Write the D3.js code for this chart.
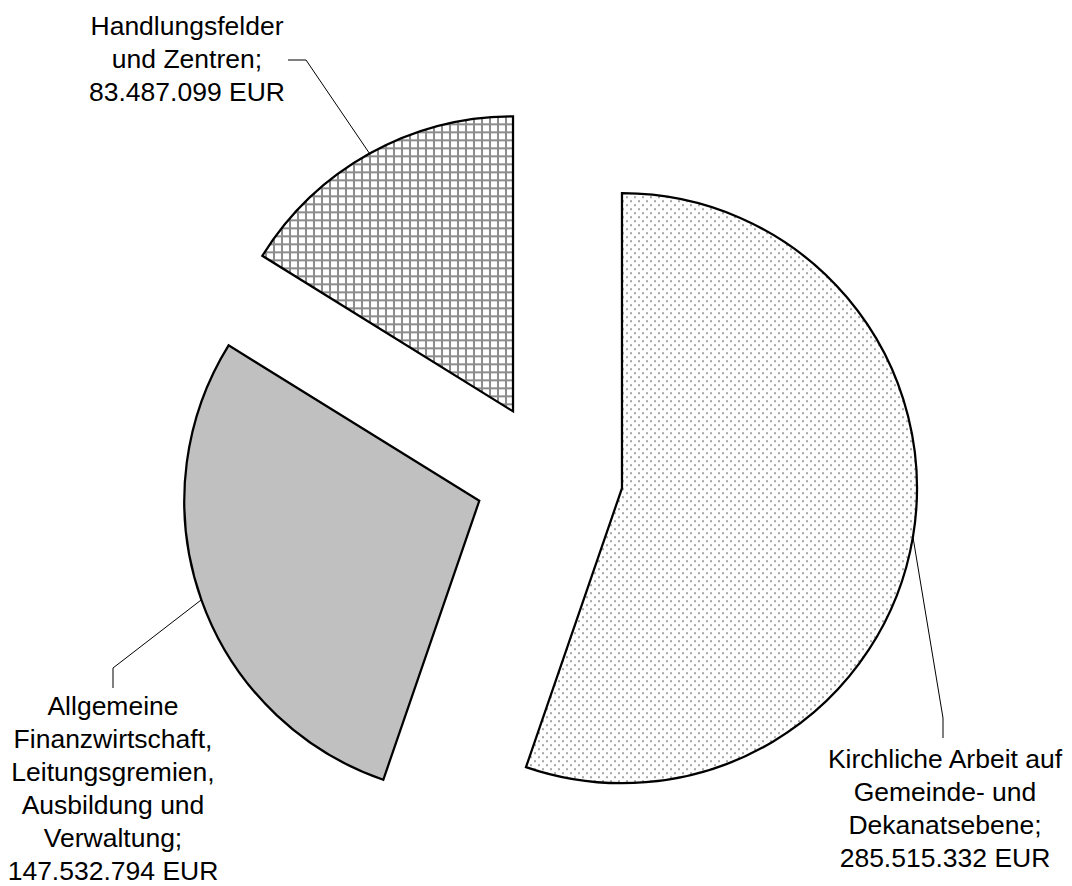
<!DOCTYPE html>
<html><head><meta charset="utf-8">
<script src="https://cdn.jsdelivr.net/npm/d3@7"></script>
<style>html,body{margin:0;padding:0;background:#fff;overflow:hidden;}</style>
</head><body><svg id="chart" width="1072" height="886"></svg>
<script>
// ---- data ----
const categories = [
  "Kirchliche Arbeit auf Gemeinde- und Dekanatsebene",
  "Allgemeine Finanzwirtschaft, Leitungsgremien, Ausbildung und Verwaltung",
  "Handlungsfelder und Zentren"
];
const values = [285515332, 147532794, 83487099];
const labelLines = [
  ["Kirchliche Arbeit auf", "Gemeinde- und", "Dekanatsebene;"],
  ["Allgemeine", "Finanzwirtschaft,", "Leitungsgremien,", "Ausbildung und", "Verwaltung;"],
  ["Handlungsfelder", "und Zentren;"]
];
const currency = "EUR";

// ---- layout (positions/styles) ----
const cx = 549, cy = 476, R = 295, explode = 74;
const fontSize = 26.5, lineH = 33;
const labelLayout = [
  {x: 945, y: 768, elbow: [943, 718], end: [943, 738]},
  {x: 113, y: 715, elbow: [113, 668], end: [113, 688]},
  {x: 187, y: 35,  elbow: [306, 60],  end: [288, 60]}
];

const svg = d3.select("#chart");
svg.append("rect").attr("width", 1072).attr("height", 886).attr("fill", "#fff");

const defs = svg.append("defs");
const dots = defs.append("pattern").attr("id", "dots").attr("patternUnits", "userSpaceOnUse")
  .attr("width", 8).attr("height", 8);
dots.append("rect").attr("width", 8).attr("height", 8).attr("fill", "#fff");
dots.append("rect").attr("x", 0).attr("y", 0).attr("width", 2).attr("height", 2).attr("fill", "#a6a6a6");
dots.append("rect").attr("x", 4).attr("y", 4).attr("width", 2).attr("height", 2).attr("fill", "#a6a6a6");

const grid = defs.append("pattern").attr("id", "grid").attr("patternUnits", "userSpaceOnUse")
  .attr("width", 8).attr("height", 8);
grid.append("rect").attr("width", 8).attr("height", 8).attr("fill", "#fff");
grid.append("rect").attr("x", 0).attr("y", 0).attr("width", 2).attr("height", 8).attr("fill", "#8c8c8c");
grid.append("rect").attr("x", 0).attr("y", 0).attr("width", 8).attr("height", 2).attr("fill", "#8c8c8c");

const fills = ["url(#dots)", "#c0c0c0", "url(#grid)"];

const pie = d3.pie().sort(null).value(d => d).startAngle(0).endAngle(2 * Math.PI);
const arcs = pie(values);
const arc = d3.arc().innerRadius(0).outerRadius(R);

const fmt = d3.formatLocale({decimal: ",", thousands: ".", grouping: [3], currency: ["", ""]}).format(",");

const g = svg.append("g").attr("transform", `translate(${cx},${cy})`);

arcs.forEach((a, i) => {
  const mid = (a.startAngle + a.endAngle) / 2;
  const dx = explode * Math.sin(mid), dy = -explode * Math.cos(mid);
  g.append("path")
    .attr("d", arc(a))
    .attr("transform", `translate(${dx},${dy})`)
    .attr("fill", fills[i])
    .attr("stroke", "#000")
    .attr("stroke-width", 2.25)
    .attr("stroke-linejoin", "miter");

  // leader line from arc midpoint
  const px = cx + dx + R * Math.sin(mid), py = cy + dy - R * Math.cos(mid);
  const L = labelLayout[i];
  svg.append("polyline")
    .attr("points", [[px, py], L.elbow, L.end].map(p => p.join(",")).join(" "))
    .attr("fill", "none").attr("stroke", "#000").attr("stroke-width", 1);

  const lines = labelLines[i].concat([fmt(values[i]) + " " + currency]);
  const t = svg.append("text")
    .attr("text-anchor", "middle")
    .attr("font-family", "Liberation Sans, Arial, sans-serif")
    .attr("font-size", fontSize)
    .attr("fill", "#000");
  lines.forEach((s, k) => {
    t.append("tspan").attr("x", L.x).attr("y", L.y + k * lineH).text(s);
  });
});
</script>
</body></html>
